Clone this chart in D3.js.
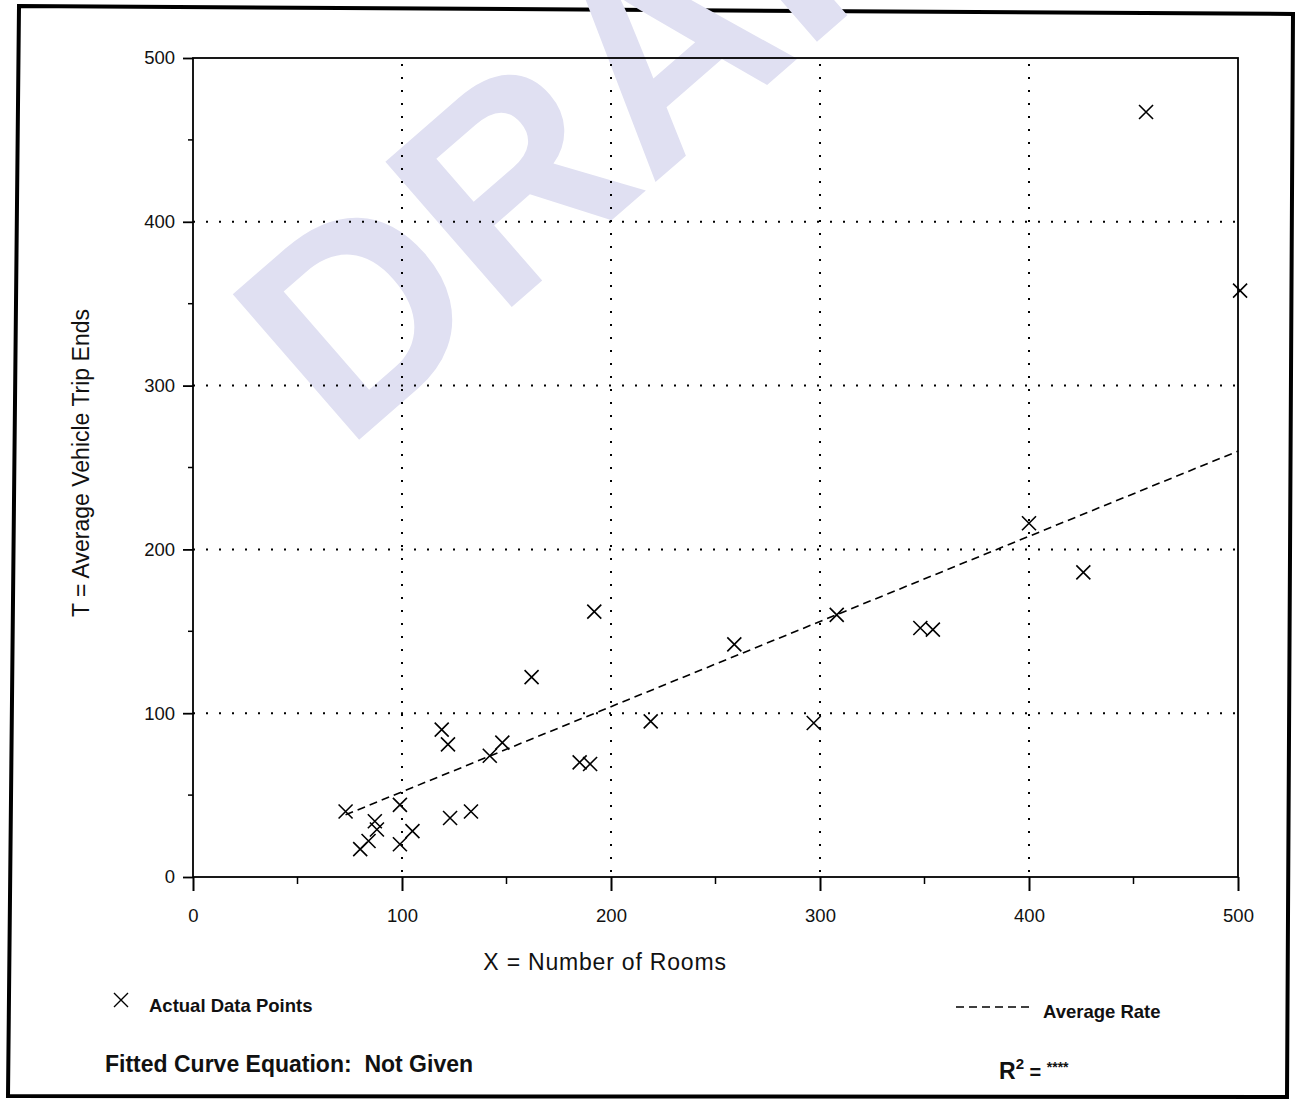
<!DOCTYPE html>
<html>
<head>
<meta charset="utf-8">
<script src="https://cdn.jsdelivr.net/npm/d3@7"></script>
<style>
  body { margin: 0; background: #fff; }
  svg { display: block; }
  text { font-family: "Liberation Sans", Arial, sans-serif; fill: #111; white-space: pre; }
</style>
</head>
<body>
<svg id="chart" width="1299" height="1099"></svg>
<script>
// Hotel sites: number of rooms vs. average vehicle trip ends
const rooms = [73, 80, 84, 87, 88, 99, 99, 105, 119, 122, 123, 133, 142, 148, 162, 185, 190, 192, 219, 259, 297, 308, 348, 354, 400, 426, 456, 501];
const tripEnds = [40, 17, 22, 34, 29, 20, 44, 28, 90, 81, 36, 40, 74, 82, 122, 70, 69, 162, 95, 142, 94, 160, 152, 151, 216, 186, 467, 358];
const averageRate = 0.52;
const xTicks = [0, 100, 200, 300, 400, 500];
const yTicks = [0, 100, 200, 300, 400, 500];
const xMinor = [50, 150, 250, 350, 450];
const yMinor = [50, 150, 250, 350, 450];

const svg = d3.select("#chart");

// Page frame (slightly skewed sheet)
svg.append("path")
  .attr("d", "M19,6 L1293,14 L1287,1097 L8,1096 Z")
  .attr("fill", "none").attr("stroke", "#000").attr("stroke-width", 4);

// Watermark
svg.append("text")
  .attr("transform", "translate(345,452) rotate(-41)")
  .attr("font-size", 280).attr("font-weight", "bold")
  .style("fill", "#e0e0f2")
  .text("DRAFT");

const plotLeft = 193, plotRight = 1238, plotTop = 58, plotBottom = 877;
const x = d3.scaleLinear().domain([0, 500]).range([plotLeft, plotRight]);
const y = d3.scaleLinear().domain([0, 500]).range([plotBottom, plotTop]);

// Dotted grid
const grid = svg.append("g").attr("stroke", "#000").attr("stroke-width", 2)
  .attr("stroke-dasharray", "2,11");
grid.selectAll(".gx").data(xTicks.filter(d => d > 0 && d < 500)).join("line")
  .attr("x1", d => x(d)).attr("x2", d => x(d)).attr("y1", plotTop + 6).attr("y2", plotBottom);
grid.selectAll(".gy").data(yTicks.filter(d => d > 0 && d < 500)).join("line")
  .attr("y1", d => y(d)).attr("y2", d => y(d)).attr("x1", plotLeft).attr("x2", plotRight);

// Plot box
svg.append("rect").attr("x", plotLeft).attr("y", plotTop)
  .attr("width", plotRight - plotLeft).attr("height", plotBottom - plotTop)
  .attr("fill", "none").attr("stroke", "#000").attr("stroke-width", 1.8);

// Axes
const xAxis = d3.axisBottom(x).tickValues(xTicks).tickSize(14).tickPadding(18).tickSizeOuter(0);
const gx = svg.append("g").attr("transform", `translate(0,${plotBottom})`).call(xAxis);
gx.select(".domain").remove();
gx.selectAll("line").attr("stroke-width", 2);
gx.selectAll("text").attr("font-size", 18.5);
gx.selectAll(".minor").data(xMinor).join("line").attr("class", "minor")
  .attr("x1", d => x(d)).attr("x2", d => x(d)).attr("y1", 0).attr("y2", 7)
  .attr("stroke", "#000").attr("stroke-width", 1.5);

const yAxis = d3.axisLeft(y).tickValues(yTicks).tickSize(10).tickPadding(8).tickSizeOuter(0);
const gy = svg.append("g").attr("transform", `translate(${plotLeft},0)`).call(yAxis);
gy.select(".domain").remove();
gy.selectAll("line").attr("stroke-width", 1.8);
gy.selectAll("text").attr("font-size", 18.5);
gy.selectAll(".minor").data(yMinor).join("line").attr("class", "minor")
  .attr("y1", d => y(d)).attr("y2", d => y(d)).attr("x1", 0).attr("x2", -5)
  .attr("stroke", "#000").attr("stroke-width", 1.5);

// Axis titles
svg.append("text").attr("x", 605).attr("y", 970).attr("text-anchor", "middle")
  .attr("font-size", 23).attr("letter-spacing", 0.8).text("X = Number of Rooms");
svg.append("text").attr("transform", "translate(89,463) rotate(-90)").attr("text-anchor", "middle")
  .attr("font-size", 23).text("T = Average Vehicle Trip Ends");

// Average rate line
const xMin = d3.min(rooms);
svg.append("line")
  .attr("x1", x(xMin)).attr("y1", y(averageRate * xMin))
  .attr("x2", x(500)).attr("y2", y(averageRate * 500))
  .attr("stroke", "#000").attr("stroke-width", 1.6).attr("stroke-dasharray", "8,5");

// Data points as X marks
const s = 7;
const cross = (cx, cy) => `M${cx - s},${cy - s}L${cx + s},${cy + s}M${cx - s},${cy + s}L${cx + s},${cy - s}`;
svg.append("g").selectAll("path").data(rooms.map((r, i) => [r, tripEnds[i]])).join("path")
  .attr("d", d => cross(x(d[0]), y(d[1])))
  .attr("stroke", "#000").attr("stroke-width", 1.6).attr("fill", "none");

// Legend
svg.append("path").attr("d", cross(121, 1000)).attr("stroke", "#000").attr("stroke-width", 1.4);
svg.append("text").attr("x", 149).attr("y", 1012).attr("font-size", 18.5).attr("font-weight", "bold")
  .text("Actual Data Points");
svg.append("line").attr("x1", 956).attr("x2", 1030).attr("y1", 1007).attr("y2", 1007)
  .attr("stroke", "#000").attr("stroke-width", 1.6).attr("stroke-dasharray", "8,5");
svg.append("text").attr("x", 1043).attr("y", 1018).attr("font-size", 18.5).attr("font-weight", "bold")
  .text("Average Rate");
svg.append("text").attr("x", 105).attr("y", 1072).attr("font-size", 23).attr("font-weight", "bold")
  .text("Fitted Curve Equation:  Not Given");
const r2 = svg.append("text").attr("x", 999).attr("y", 1079).attr("font-size", 23).attr("font-weight", "bold");
r2.append("tspan").text("R");
r2.append("tspan").attr("font-size", 15).attr("dy", -10).text("2");
r2.append("tspan").attr("dy", 10).attr("font-size", 20).text(" = ");
r2.append("tspan").attr("font-size", 14).attr("dy", -7).text("****");
</script>
</body>
</html>
